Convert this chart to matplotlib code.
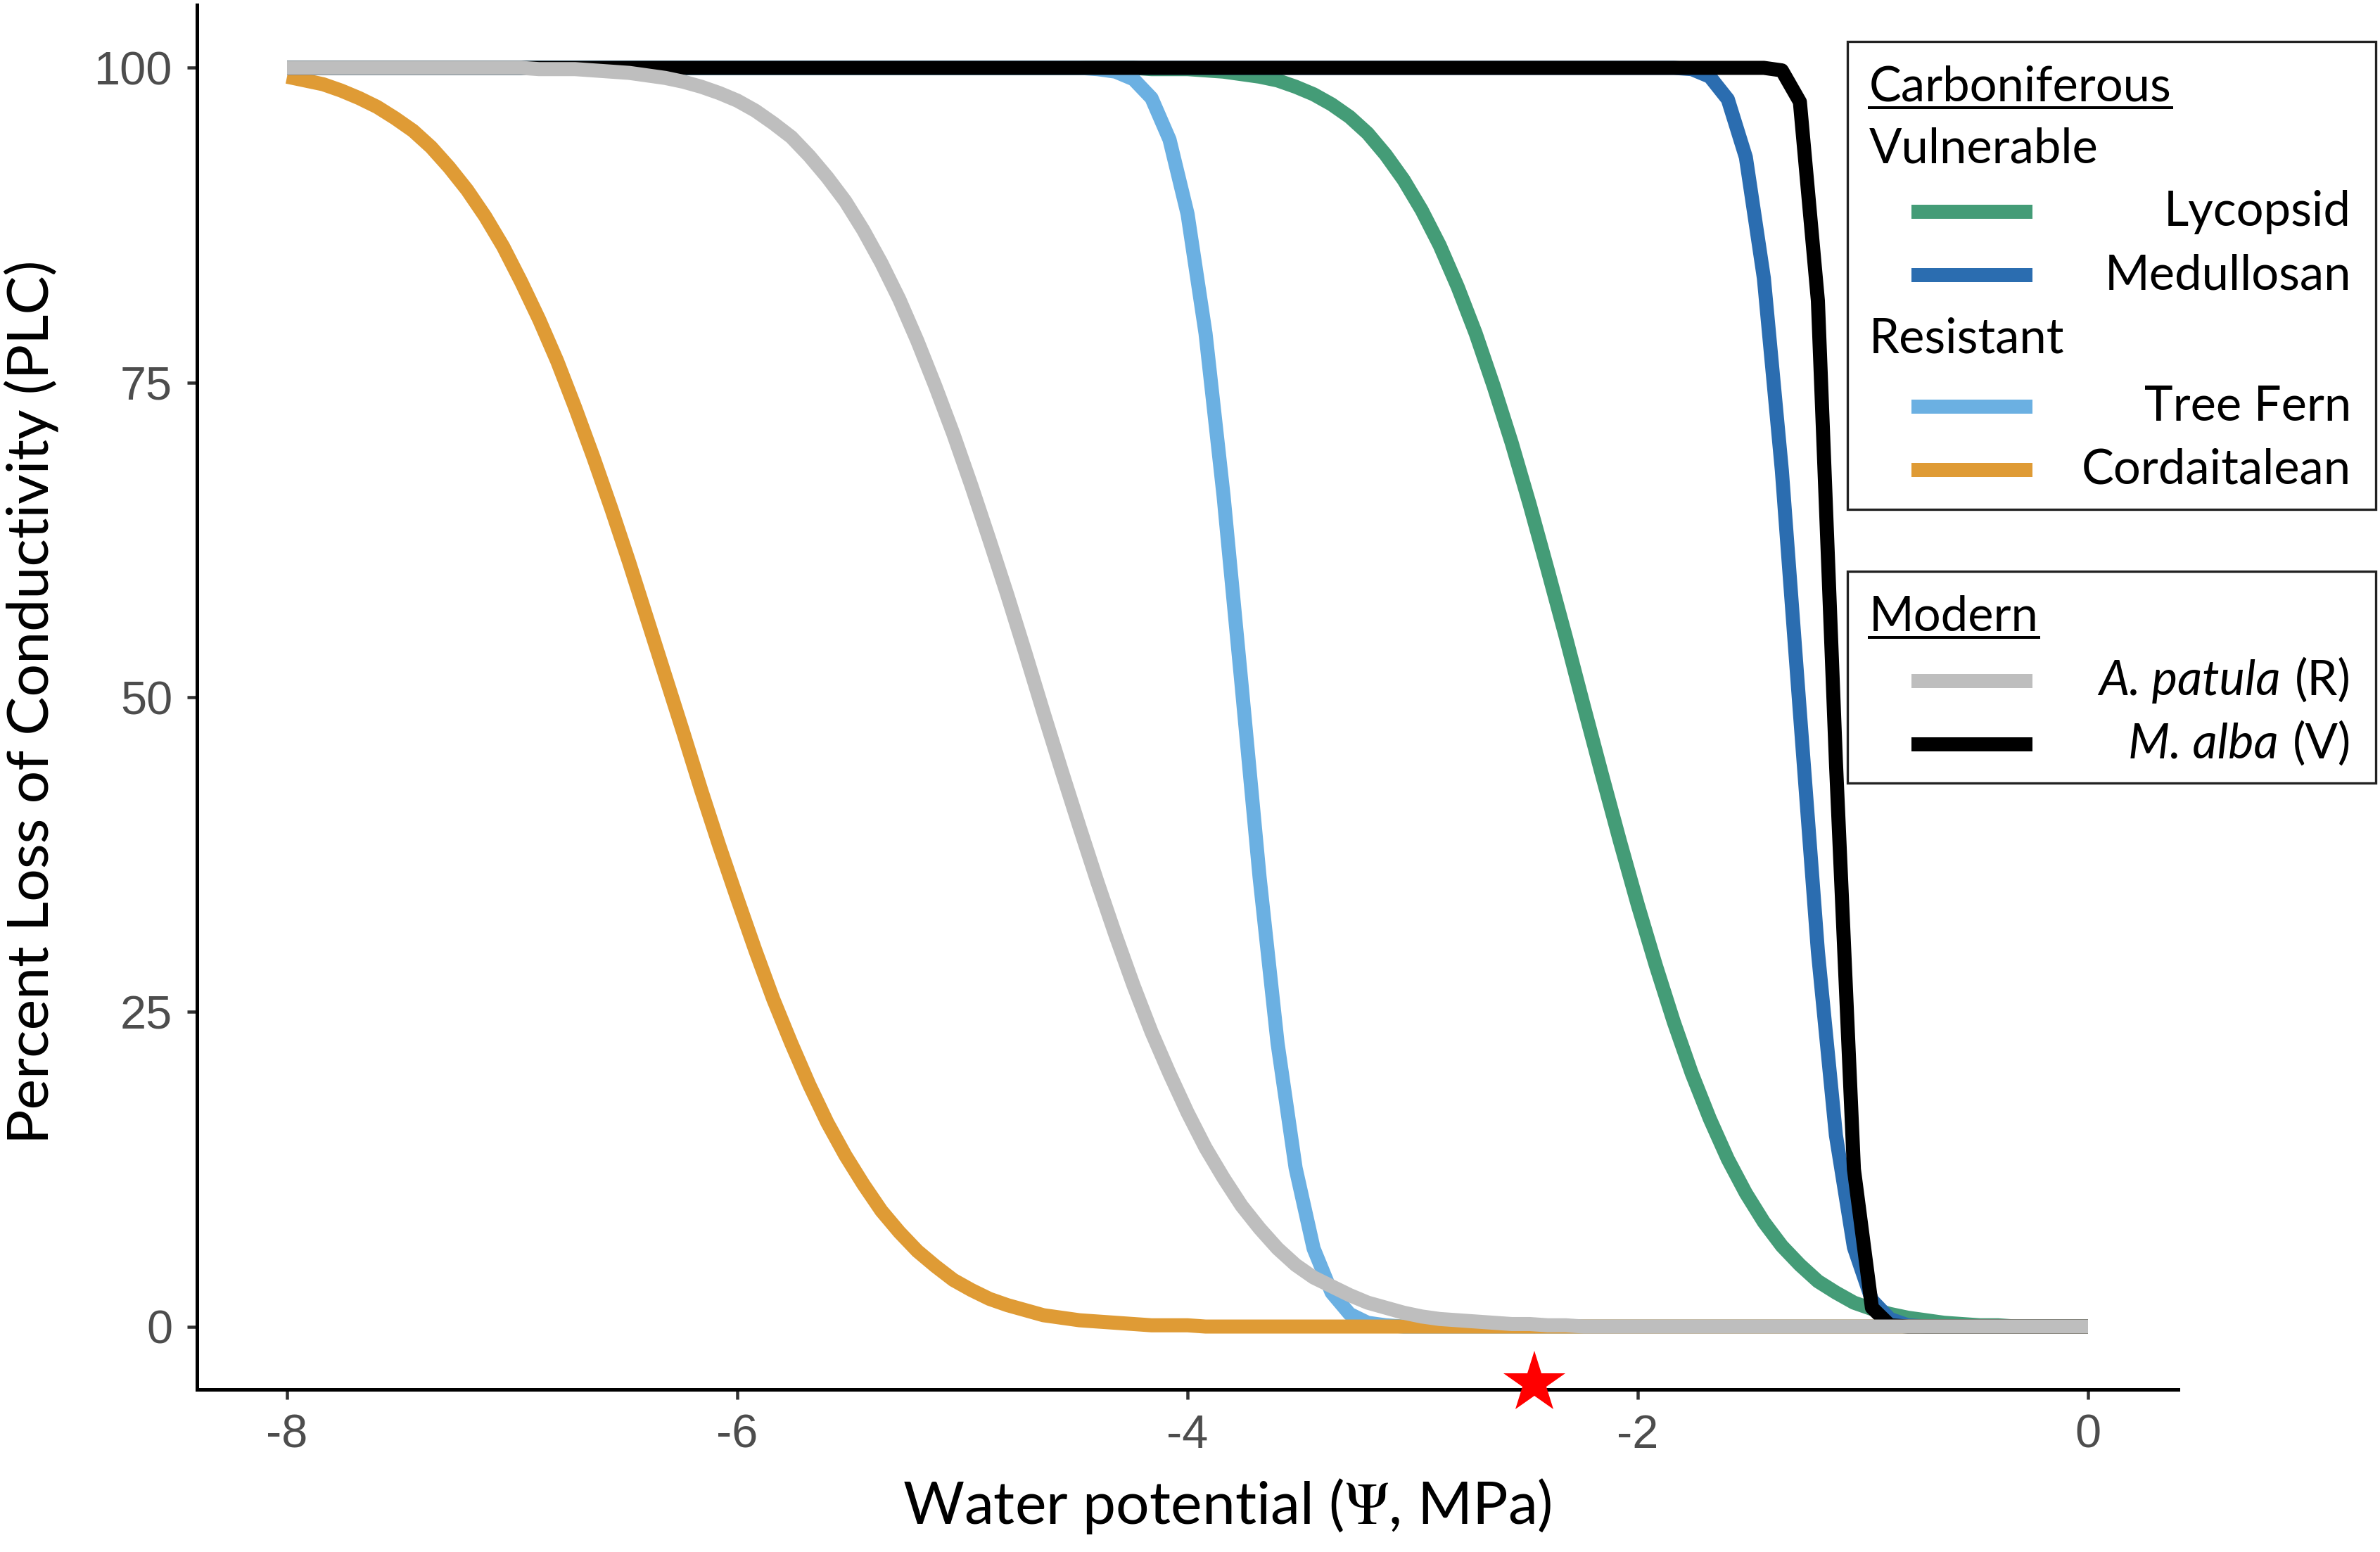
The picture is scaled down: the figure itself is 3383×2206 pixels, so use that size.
import matplotlib
matplotlib.use("Agg")
import matplotlib.pyplot as plt
from matplotlib.lines import Line2D
from matplotlib.patches import Rectangle

plt.rcParams["axes.unicode_minus"] = False
plt.rcParams["mathtext.fontset"] = "stix"

# ---------------- data ----------------
psi = [
    -8.00, -7.92, -7.84, -7.76, -7.68, -7.60, -7.52, -7.44, -7.36, -7.28,
    -7.20, -7.12, -7.04, -6.96, -6.88, -6.80, -6.72, -6.64, -6.56, -6.48,
    -6.40, -6.32, -6.24, -6.16, -6.08, -6.00, -5.92, -5.84, -5.76, -5.68,
    -5.60, -5.52, -5.44, -5.36, -5.28, -5.20, -5.12, -5.04, -4.96, -4.88,
    -4.80, -4.72, -4.64, -4.56, -4.48, -4.40, -4.32, -4.24, -4.16, -4.08,
    -4.00, -3.92, -3.84, -3.76, -3.68, -3.60, -3.52, -3.44, -3.36, -3.28,
    -3.20, -3.12, -3.04, -2.96, -2.88, -2.80, -2.72, -2.64, -2.56, -2.48,
    -2.40, -2.32, -2.24, -2.16, -2.08, -2.00, -1.92, -1.84, -1.76, -1.68,
    -1.60, -1.52, -1.44, -1.36, -1.28, -1.20, -1.12, -1.04, -0.96, -0.88,
    -0.80, -0.72, -0.64, -0.56, -0.48, -0.40, -0.32, -0.24, -0.16, -0.08,
    0.00,
]

plc_lycopsid = [
    100, 100, 100, 100, 100, 100, 100, 100, 100, 100,
    100, 100, 100, 100, 100, 100, 100, 100, 100, 100,
    100, 100, 100, 100, 100, 100, 100, 100, 100, 100,
    100, 100, 100, 100, 100, 100, 100, 100, 100, 100,
    100, 100, 100, 100, 100, 100, 100, 100, 99.9, 99.9,
    99.9, 99.8, 99.7, 99.5, 99.3, 99.0, 98.5, 97.9, 97.1, 96.1,
    94.8, 93.1, 91.1, 88.7, 85.9, 82.6, 78.9, 74.7, 70.2, 65.3,
    60.1, 54.8, 49.3, 43.9, 38.6, 33.5, 28.7, 24.2, 20.1, 16.5,
    13.3, 10.6, 8.3, 6.4, 4.9, 3.6, 2.7, 1.9, 1.4, 1.0,
    0.7, 0.5, 0.3, 0.2, 0.1, 0.1, 0, 0, 0, 0,
    0,
]

plc_medullosan = [
    100, 100, 100, 100, 100, 100, 100, 100, 100, 100,
    100, 100, 100, 100, 100, 100, 100, 100, 100, 100,
    100, 100, 100, 100, 100, 100, 100, 100, 100, 100,
    100, 100, 100, 100, 100, 100, 100, 100, 100, 100,
    100, 100, 100, 100, 100, 100, 100, 100, 100, 100,
    100, 100, 100, 100, 100, 100, 100, 100, 100, 100,
    100, 100, 100, 100, 100, 100, 100, 100, 100, 100,
    100, 100, 100, 100, 100, 100, 100, 100, 99.9, 99.3,
    97.5, 92.9, 83.3, 68.0, 48.8, 29.8, 15.2, 6.3, 2.1, 0.6,
    0.1, 0, 0, 0, 0, 0, 0, 0, 0, 0,
    0,
]

plc_tree_fern = [
    100, 100, 100, 100, 100, 100, 100, 100, 100, 100,
    100, 100, 100, 100, 100, 100, 100, 100, 100, 100,
    100, 100, 100, 100, 100, 100, 100, 100, 100, 100,
    100, 100, 100, 100, 100, 100, 100, 100, 100, 100,
    100, 100, 100, 100, 100, 99.9, 99.7, 99.1, 97.6, 94.3,
    88.4, 78.9, 66.0, 51.0, 35.7, 22.5, 12.6, 6.2, 2.7, 1.0,
    0.3, 0.1, 0, 0, 0, 0, 0, 0, 0, 0,
    0, 0, 0, 0, 0, 0, 0, 0, 0, 0,
    0, 0, 0, 0, 0, 0, 0, 0, 0, 0,
    0, 0, 0, 0, 0, 0, 0, 0, 0, 0,
    0,
]

plc_cordaitalean = [
    99.3, 99.0, 98.7, 98.2, 97.6, 96.9, 96.0, 95.0, 93.7, 92.1,
    90.3, 88.2, 85.8, 83.0, 80.0, 76.7, 73.0, 69.1, 65.0, 60.7,
    56.2, 51.7, 47.2, 42.6, 38.2, 34.0, 29.9, 26.0, 22.5, 19.2,
    16.2, 13.6, 11.3, 9.2, 7.5, 6.0, 4.8, 3.7, 2.9, 2.2,
    1.7, 1.3, 0.9, 0.7, 0.5, 0.4, 0.3, 0.2, 0.1, 0.1,
    0.1, 0, 0, 0, 0, 0, 0, 0, 0, 0,
    0, 0, 0, 0, 0, 0, 0, 0, 0, 0,
    0, 0, 0, 0, 0, 0, 0, 0, 0, 0,
    0, 0, 0, 0, 0, 0, 0, 0, 0, 0,
    0, 0, 0, 0, 0, 0, 0, 0, 0, 0,
    0,
]

plc_m_alba = [
    100, 100, 100, 100, 100, 100, 100, 100, 100, 100,
    100, 100, 100, 100, 100, 100, 100, 100, 100, 100,
    100, 100, 100, 100, 100, 100, 100, 100, 100, 100,
    100, 100, 100, 100, 100, 100, 100, 100, 100, 100,
    100, 100, 100, 100, 100, 100, 100, 100, 100, 100,
    100, 100, 100, 100, 100, 100, 100, 100, 100, 100,
    100, 100, 100, 100, 100, 100, 100, 100, 100, 100,
    100, 100, 100, 100, 100, 100, 100, 100, 100, 100,
    100, 100, 100, 99.8, 97.3, 81.5, 44.9, 12.5, 1.5, 0.1,
    0, 0, 0, 0, 0, 0, 0, 0, 0, 0,
    0,
]

plc_a_patula = [
    100, 100, 100, 100, 100, 100, 100, 100, 100, 100,
    100, 100, 100, 100, 99.9, 99.9, 99.9, 99.8, 99.7, 99.6,
    99.4, 99.2, 98.9, 98.5, 98.0, 97.4, 96.6, 95.6, 94.5, 93.0,
    91.3, 89.4, 87.1, 84.5, 81.6, 78.3, 74.7, 70.9, 66.8, 62.5,
    58.1, 53.5, 48.8, 44.2, 39.7, 35.3, 31.1, 27.1, 23.4, 20.1,
    17.0, 14.2, 11.8, 9.6, 7.8, 6.2, 4.9, 3.9, 3.2, 2.5,
    1.9, 1.5, 1.1, 0.8, 0.6, 0.5, 0.4, 0.3, 0.2, 0.2,
    0.1, 0.1, 0, 0, 0, 0, 0, 0, 0, 0,
    0, 0, 0, 0, 0, 0, 0, 0, 0, 0,
    0, 0, 0, 0, 0, 0, 0, 0, 0, 0,
    0,
]

star_psi = [-2.46]
star_plc = [-4.5]

x_ticks = [-8, -6, -4, -2, 0]
x_tick_labels = ["-8", "-6", "-4", "-2", "0"]
y_ticks = [0, 25, 50, 75, 100]
y_tick_labels = ["0", "25", "50", "75", "100"]

carb_groups = [
    ("Vulnerable", [("Lycopsid", "#449C77"), ("Medullosan", "#2B6DB0")]),
    ("Resistant", [("Tree Fern", "#6BB0E2"), ("Cordaitalean", "#DF9B35")]),
]
modern_items = [("A. patula", "(R)", "#BEBEBE"), ("M. alba", "(V)", "#000000")]

# ---------------- figure ----------------
W, H = 3383, 2206
DPI = 300
fig = plt.figure(figsize=(W / DPI, H / DPI), dpi=DPI)
fig.patch.set_facecolor("white")


def fx(px):
    return px / W


def fy(py):
    return 1 - py / H


def pt(px):
    return px * 72.0 / DPI


ax = fig.add_axes([fx(280), fy(1975), fx(3096) - fx(280), fy(7) - fy(1975)])
ax.set_facecolor("white")

LW = pt(20)
series = [
    (plc_lycopsid, "#449C77"),
    (plc_medullosan, "#2B6DB0"),
    (plc_tree_fern, "#6BB0E2"),
    (plc_cordaitalean, "#DF9B35"),
    (plc_m_alba, "#000000"),
    (plc_a_patula, "#BEBEBE"),
]
for i, (vals, col) in enumerate(series):
    ax.plot(psi, vals, color=col, lw=LW, solid_joinstyle="round",
            solid_capstyle="butt", zorder=2 + i * 0.1)

ax.plot(star_psi, star_plc, linestyle="none", marker="*", color="#FF0000",
        markersize=22, markeredgewidth=0, clip_on=False, zorder=10)

ax.set_xlim(-8.4, 0.4)
ax.set_ylim(-5, 105)
ax.set_xticks(x_ticks)
ax.set_xticklabels(x_tick_labels)
ax.set_yticks(y_ticks)
ax.set_yticklabels(y_tick_labels)

for s in ["top", "right"]:
    ax.spines[s].set_visible(False)
for s in ["left", "bottom"]:
    ax.spines[s].set_linewidth(pt(5))
    ax.spines[s].set_color("black")

ax.tick_params(axis="both", length=pt(14), width=pt(4.5), color="#333333",
               labelcolor="#4D4D4D", labelsize=16, pad=5)
for lab in ax.get_xticklabels() + ax.get_yticklabels():
    lab.set_family(["Liberation Sans", "DejaVu Sans"])

TITLE_FONT = ["Lato", "DejaVu Sans"]
fig.text(fx(44), fy(998), "Percent Loss of Conductivity (PLC)", rotation=90,
         ha="center", va="center", fontsize=19.8, family=TITLE_FONT, color="black")
fig.text(fx(1744), fy(2166), r"Water potential ($\Psi$, MPa)", ha="center",
         va="baseline", fontsize=20.2, family=TITLE_FONT, color="black")

# ---------------- legends (drawn manually) ----------------
LEG_FS = 16.5
LEG_FONT = ["Lato", "DejaVu Sans"]
box_x0, box_x1 = 2626, 3377
key_x0, key_x1 = 2717, 2889
text_right = 3342
head_left = 2657


def box(y0, y1):
    fig.add_artist(Rectangle((fx(box_x0), fy(y1)), fx(box_x1) - fx(box_x0),
                             fy(y0) - fy(y1), transform=fig.transFigure,
                             facecolor="white", edgecolor="#222222",
                             lw=0.8, zorder=20))


def key(y, col):
    fig.add_artist(Line2D([fx(key_x0), fx(key_x1)], [fy(y), fy(y)],
                          transform=fig.transFigure, color=col, lw=LW,
                          solid_capstyle="butt", zorder=21))


underlined = []

box(59, 724)
t = fig.text(fx(head_left), fy(144), "Carboniferous", ha="left", va="baseline",
             fontsize=LEG_FS, family=LEG_FONT, zorder=22)
underlined.append((t, 153))
group_baselines = [232, 502]
key_ys = [[301, 391], [578, 668]]
for (gname, items), gb, kys in zip(carb_groups, group_baselines, key_ys):
    fig.text(fx(head_left), fy(gb), gname, ha="left", va="baseline",
             fontsize=LEG_FS, family=LEG_FONT, zorder=22)
    for (lab, col), ky in zip(items, kys):
        key(ky, col)
        fig.text(fx(text_right), fy(ky + 20), lab, ha="right", va="baseline",
                 fontsize=LEG_FS, family=LEG_FONT, zorder=22)

box(812, 1113)
t = fig.text(fx(head_left), fy(897), "Modern", ha="left", va="baseline",
             fontsize=LEG_FS, family=LEG_FONT, zorder=22)
underlined.append((t, 906))
suffix_texts = []
for (sp, suf, col), ky in zip(modern_items, [968, 1058]):
    key(ky, col)
    ts = fig.text(fx(text_right), fy(ky + 20), suf, ha="right", va="baseline",
                  fontsize=LEG_FS, family=LEG_FONT, zorder=22)
    suffix_texts.append((ts, sp, ky))

fig.canvas.draw()
renderer = fig.canvas.get_renderer()
for ts, sp, ky in suffix_texts:
    bb = ts.get_window_extent(renderer)
    fig.text(fx(bb.x0 - 20), fy(ky + 20), sp, ha="right", va="baseline",
             fontsize=LEG_FS, family=LEG_FONT, style="italic", zorder=22)
for t, uy in underlined:
    bb = t.get_window_extent(renderer)
    fig.add_artist(Line2D([bb.x0 / W, bb.x1 / W], [fy(uy), fy(uy)],
                          transform=fig.transFigure, color="black",
                          lw=pt(4), zorder=22))

fig.savefig("out.png", dpi=DPI, facecolor="white")
